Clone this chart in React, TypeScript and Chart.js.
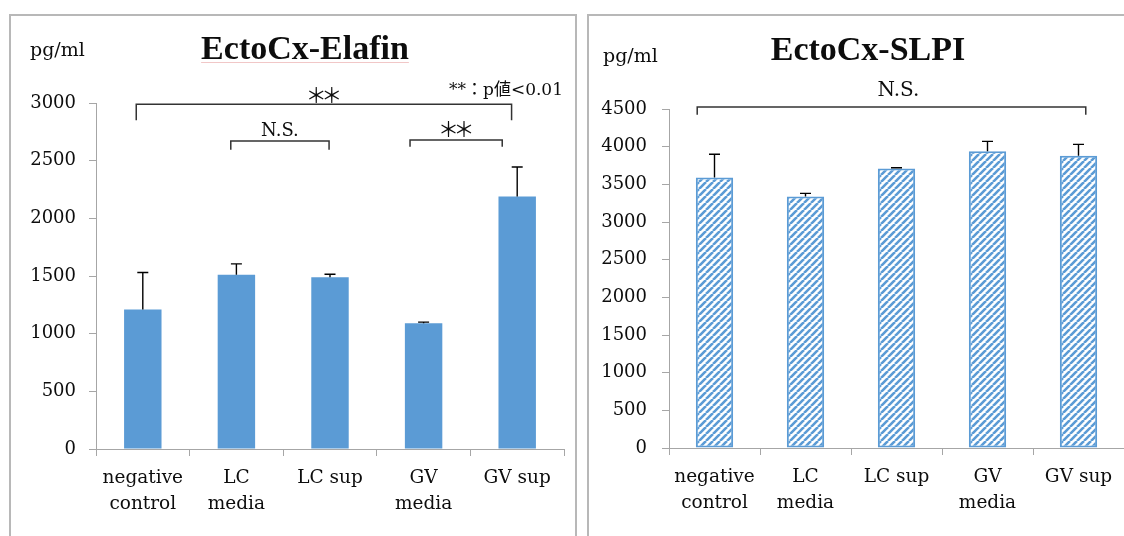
import React, { useEffect, useRef } from 'react';
import { Chart, registerables } from 'chart.js';
Chart.register(...registerables);

// ---------- data ----------
const categories: (string | string[])[] = [['negative', 'control'], ['LC', 'media'], 'LC sup', ['GV', 'media'], 'GV sup'];

const elafinMeans = [1210, 1510, 1490, 1090, 2190];
const elafinErr = [320, 95, 25, 10, 255];
const elafinMax = 3000;

const slpiMeans = [3590, 3340, 3710, 3940, 3880];
const slpiErr = [310, 40, 10, 130, 150];
const slpiMax = 4500;

const tickStep = 500;

// brackets: category index span (fractional), top value, foot value, label
const elafinBrackets = [
  { from: -0.07, to: 3.94, top: 2990, foot: 2850, label: '＊＊' },
  { from: 0.94, to: 1.99, top: 2670, foot: 2595, label: 'N.S.' },
  { from: 2.855, to: 3.84, top: 2680, foot: 2620, label: '＊＊' },
];
const slpiBrackets = [
  { from: -0.19, to: 4.08, top: 4527, foot: 4424, label: 'N.S.' },
];

const titleLeft = 'EctoCx-Elafin';
const titleRight = 'EctoCx-SLPI';
const unitText = 'pg/ml';
const noteText = '**：p値<0.01';

// ---------- styles ----------
const BLUE = '#5b9bd5';
const AXIS = '#a6a6a6';
const TEXT = '#0d0d0d';
const SERIF = '"DejaVu Serif", "Liberation Serif", serif';
const CJK = '"Noto Sans CJK JP", "DejaVu Serif", serif';

function makeStripePattern(ctxRef: CanvasRenderingContext2D): CanvasPattern | string {
  const s = 7;
  const c = document.createElement('canvas');
  c.width = s;
  c.height = s;
  const g = c.getContext('2d');
  if (!g) return BLUE;
  g.fillStyle = '#ffffff';
  g.fillRect(0, 0, s, s);
  g.strokeStyle = BLUE;
  g.lineWidth = 2.6;
  g.beginPath();
  for (const k of [-s, 0, s]) {
    g.moveTo(k, s);
    g.lineTo(k + s, 0);
  }
  g.stroke();
  return ctxRef.createPattern(c, 'repeat') || BLUE;
}

const overlayPlugin = {
  id: 'overlay',
  afterDatasetsDraw(chart: any, _args: any, opts: any) {
    const { ctx } = chart;
    const xs = chart.scales.x;
    const ys = chart.scales.y;
    const meta = chart.getDatasetMeta(0);
    ctx.save();
    // error bars
    ctx.strokeStyle = '#000';
    ctx.lineWidth = 1.4;
    opts.means.forEach((m: number, i: number) => {
      const bar = meta.data[i];
      const top = ys.getPixelForValue(m + opts.errs[i]);
      ctx.beginPath();
      ctx.moveTo(bar.x, bar.y);
      ctx.lineTo(bar.x, top);
      ctx.moveTo(bar.x - 5.5, top);
      ctx.lineTo(bar.x + 5.5, top);
      ctx.stroke();
    });
    // brackets
    opts.brackets.forEach((b: any, i: number) => {
      const x1 = xs.getPixelForValue(b.from);
      const x2 = xs.getPixelForValue(b.to);
      const yt = ys.getPixelForValue(b.top);
      const yf = ys.getPixelForValue(b.foot);
      ctx.strokeStyle = '#333';
      ctx.lineWidth = 1.5;
      ctx.beginPath();
      ctx.moveTo(x1, yf);
      ctx.lineTo(x1, yt);
      ctx.lineTo(x2, yt);
      ctx.lineTo(x2, yf);
      ctx.stroke();
      const st = opts.bracketStyles[i];
      ctx.fillStyle = TEXT;
      ctx.font = st.font;
      ctx.textAlign = 'center';
      ctx.textBaseline = st.baseline;
      const cx = (x1 + x2) / 2 + (st.dx || 0);
      const chars = st.split ? Array.from(b.label as string) : [b.label];
      const gap = st.split || 0;
      chars.forEach((ch: string, k: number) => {
        const off = (k - (chars.length - 1) / 2) * gap;
        ctx.fillText(ch, cx + off, yt + st.dy);
      });
    });
    // free texts
    opts.texts.forEach((t: any) => {
      ctx.fillStyle = TEXT;
      ctx.font = t.font;
      ctx.textAlign = t.align;
      ctx.textBaseline = 'alphabetic';
      ctx.fillText(t.text, t.x, t.y);
      if (t.underline) {
        const w = ctx.measureText(t.text).width;
        const x0 = t.align === 'center' ? t.x - w / 2 : t.x;
        ctx.strokeStyle = 'rgba(225,130,130,0.45)';
        ctx.lineWidth = 1;
        ctx.beginPath();
        ctx.moveTo(x0, t.y + 3.5);
        ctx.lineTo(x0 + w, t.y + 3.5);
        ctx.stroke();
      }
    });
    ctx.restore();
  },
};

function buildConfig(p: any): any {
  return {
    type: 'bar',
    data: {
      labels: categories,
      datasets: [
        {
          data: p.means,
          backgroundColor: p.bg,
          borderColor: BLUE,
          borderWidth: p.borderWidth,
          borderSkipped: p.borderSkipped,
          barPercentage: p.barPct,
          categoryPercentage: 1,
        },
      ],
    },
    plugins: [overlayPlugin],
    options: {
      animation: false,
      responsive: false,
      events: [],
      layout: { padding: { left: 0, right: p.padRight, top: p.chartTop, bottom: 0 } },
      plugins: {
        legend: { display: false },
        tooltip: { enabled: false },
        title: { display: false },
        overlay: {
          means: p.means,
          errs: p.errs,
          brackets: p.brackets,
          bracketStyles: p.bracketStyles,
          texts: p.texts,
        },
      },
      scales: {
        x: {
          type: 'category',
          offset: true,
          grid: { display: true, offset: true, drawOnChartArea: false, drawTicks: true, tickLength: 7, color: AXIS, lineWidth: 1 },
          border: { display: true, color: AXIS, width: 1 },
          ticks: {
            autoSkip: false,
            maxRotation: 0,
            minRotation: 0,
            padding: p.xPad,
            color: TEXT,
            font: { family: SERIF, size: 18.5, lineHeight: 1.36 },
          },
          afterFit: (s: any) => {
            s.height = p.canvasH - p.chartBottom;
          },
        },
        y: {
          type: 'linear',
          min: 0,
          max: p.yMax,
          grid: { display: true, drawOnChartArea: false, drawTicks: true, tickLength: 7, color: AXIS, lineWidth: 1 },
          border: { display: true, color: AXIS, width: 1 },
          ticks: {
            stepSize: tickStep,
            padding: p.yPad,
            color: TEXT,
            font: { family: SERIF, size: 18 },
            callback: (v: any) => String(v),
          },
          afterFit: (s: any) => {
            s.width = p.chartLeft;
          },
        },
      },
    },
  };
}

export default function App() {
  const leftRef = useRef<HTMLCanvasElement>(null);
  const rightRef = useRef<HTMLCanvasElement>(null);

  useEffect(() => {
    const lc = leftRef.current!;
    const rc = rightRef.current!;
    const pattern = makeStripePattern(rc.getContext('2d')!);
    const starStyle = (dy: number) => ({ font: `21px ${CJK}`, baseline: 'middle', dy, split: 15.5 });

    const left = new Chart(
      lc,
      buildConfig({
        means: elafinMeans,
        errs: elafinErr,
        bg: BLUE,
        borderWidth: 0,
        borderSkipped: 'start',
        barPct: 0.4,
        yMax: elafinMax,
        chartLeft: 96,
        chartTop: 103,
        chartBottom: 449,
        padRight: 16,
        canvasH: 536,
        xPad: 10,
        yPad: 13,
        brackets: elafinBrackets,
        bracketStyles: [
          starStyle(-9),
          { font: `18px ${SERIF}`, baseline: 'alphabetic', dy: -5 },
          starStyle(-11),
        ],
        texts: [
          { text: titleLeft, x: 305, y: 59, font: 'bold 34px "Liberation Serif", serif', align: 'center', underline: true },
          { text: unitText, x: 30, y: 56, font: `19px ${SERIF}`, align: 'left' },
          { text: noteText, x: 563, y: 95, font: `17px "DejaVu Serif", "Noto Sans CJK JP", serif`, align: 'right' },
        ],
      })
    );

    const right = new Chart(
      rc,
      buildConfig({
        means: slpiMeans,
        errs: slpiErr,
        bg: pattern,
        borderWidth: 2,
        borderSkipped: false,
        barPct: 0.41,
        yMax: slpiMax,
        chartLeft: 89,
        chartTop: 109,
        chartBottom: 448,
        padRight: 0,
        canvasH: 536,
        xPad: 10,
        yPad: 15,
        brackets: slpiBrackets,
        bracketStyles: [{ font: `20px ${SERIF}`, baseline: 'alphabetic', dy: -11, dx: 7 }],
        texts: [
          { text: titleRight, x: 288, y: 60, font: 'bold 34px "Liberation Serif", serif', align: 'center' },
          { text: unitText, x: 23, y: 62, font: `19px ${SERIF}`, align: 'left' },
        ],
      })
    );

    return () => {
      left.destroy();
      right.destroy();
    };
  }, []);

  return (
    <div
      style={{
        position: 'fixed',
        left: 0,
        top: 0,
        width: 1124,
        height: 536,
        background: '#ffffff',
        overflow: 'hidden',
      }}
    >
      <div style={{ position: 'absolute', left: 9, top: 14, width: 564, height: 560, border: '2px solid #b8b8b8' }} />
      <div style={{ position: 'absolute', left: 587, top: 14, width: 600, height: 560, border: '2px solid #b8b8b8' }} />
      <canvas ref={leftRef} width={580} height={536} style={{ position: 'absolute', left: 0, top: 0 }} />
      <canvas ref={rightRef} width={544} height={536} style={{ position: 'absolute', left: 580, top: 0 }} />
    </div>
  );
}
